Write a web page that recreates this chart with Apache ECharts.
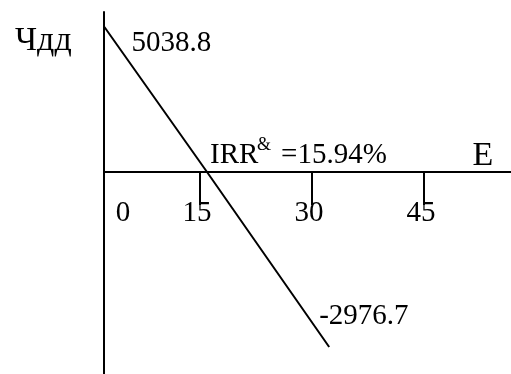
<!DOCTYPE html>
<html><head><meta charset="utf-8">
<script src="https://cdn.jsdelivr.net/npm/echarts@6/dist/echarts.min.js"></script>
<style>html,body{margin:0;padding:0;background:#fff}#c{width:511px;height:374px}</style>
</head><body><div id="c"></div>
<script>
// Data (schematic NPV vs discount rate E)
const lineE = [2.2, 15.94, 32.3];          // E positions of the drawn line points
const lineNPV = [5038.8, 0, -6080];         // drawn NPV positions
const pointLabels = ['5038.8', '', '-2976.7'];
const tickValues = [15, 30, 45];
const tickLabels = ['15', '30', '45'];
const originLabel = '0';
const irrMain = 'IRR', irrSup = '&', irrValue = '=15.94%';
const yName = 'Чдд', xName = 'E';

const FONT = '"Liberation Serif", "Times New Roman", serif';
const chart = echarts.init(document.getElementById('c'), null, {renderer: 'canvas'});
const axisStyle = {color: '#000', width: 2};
chart.setOption({
  animation: false,
  grid: {left: 104, right: 0, top: 12, bottom: 0, containLabel: false, outerBoundsMode: 'none'},
  xAxis: {
    type: 'value', min: 2.1429, max: 56.65,
    axisLine: {onZero: true, lineStyle: axisStyle},
    splitLine: {show: false},
    axisTick: {show: true, customValues: tickValues, length: 33, lineStyle: axisStyle},
    axisLabel: {show: false}
  },
  yAxis: {
    type: 'value', min: -7020, max: 5560,
    axisLine: {show: true, onZero: false, lineStyle: axisStyle},
    axisTick: {show: false}, axisLabel: {show: false}, splitLine: {show: false}
  },
  series: [{
    type: 'line', symbol: 'none',
    data: lineE.map((e, i) => [e, lineNPV[i]]),
    lineStyle: {color: '#000', width: 2}
  }]
});

const px = lineE.map((e, i) => chart.convertToPixel({gridIndex: 0}, [e, lineNPV[i]]));
const origin = chart.convertToPixel({gridIndex: 0}, [2.1429, 0]);
const txt = (text, x, y, size, align) => ({
  type: 'text', x, y,
  style: {text, fill: '#000', font: size + 'px ' + FONT, textAlign: align || 'left', textVerticalAlign: 'middle'}
});
const tickTexts = tickValues.map((v, i) => {
  const p = chart.convertToPixel({gridIndex: 0}, [v, 0]);
  return txt(tickLabels[i], p[0] - 3, p[1] + 41, 29, 'center');
});
chart.setOption({
  graphic: [
    txt(yName, 15, 41, 34),
    txt(pointLabels[0], px[0][0] + 27, px[0][1] + 16, 29),
    txt(irrMain, px[1][0] + 3, px[1][1] - 17, 29),
    txt(irrSup, px[1][0] + 50, px[1][1] - 27, 18),
    txt(irrValue, px[1][0] + 74, px[1][1] - 17, 29),
    txt(pointLabels[2], px[2][0] - 10, px[2][1] - 31, 29),
    txt(originLabel, origin[0] + 19, origin[1] + 41, 29, 'center'),
    txt(xName, 483, origin[1] - 16, 34, 'center')
  ].concat(tickTexts)
});
</script></body></html>
